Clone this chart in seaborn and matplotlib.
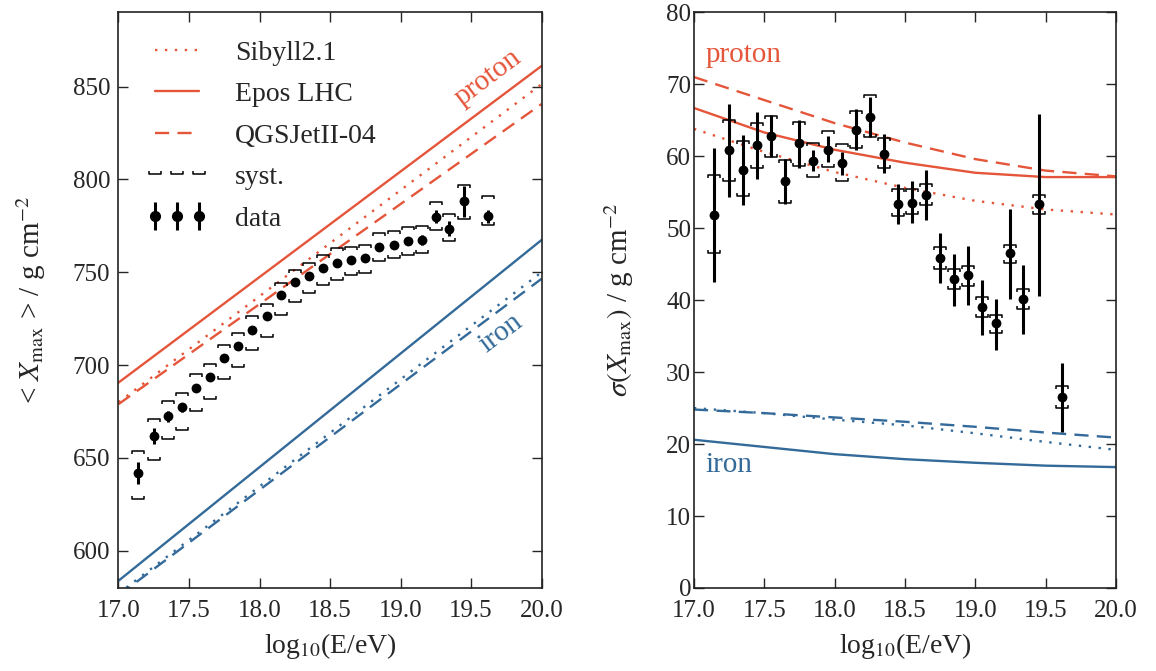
import numpy as np
import matplotlib
matplotlib.use("Agg")
import matplotlib.pyplot as plt
from matplotlib.path import Path
from matplotlib.lines import Line2D
import seaborn as sns

# energy bins (log10 E/eV)
lgE = [17.14, 17.25, 17.35, 17.45, 17.55, 17.65, 17.75, 17.85, 17.95, 18.05,
       18.15, 18.25, 18.35, 18.45, 18.55, 18.65, 18.75, 18.85, 18.95, 19.05,
       19.15, 19.25, 19.34, 19.45, 19.62]

# <Xmax>
xmax_mean = [642, 661.8, 672.5, 677.2, 687.5, 693.6, 704.1, 710.2, 719.1, 726.3,
             737.5, 744.5, 748.2, 752.5, 754.9, 756.6, 757.9, 763.8, 764.7, 766.8,
             767.4, 779.8, 773.4, 788.2, 780.2]
xmax_stat = [5.8, 4.3, 3.0, 2.5, 2.0, 1.8, 1.6, 1.5, 1.5, 1.5,
             1.5, 1.5, 1.5, 1.5, 1.5, 1.6, 1.8, 2.0, 2.0, 2.2,
             2.5, 3.5, 4.0, 8.5, 3.5]
xmax_syst_hi = [653.6, 670.9, 680.7, 684.8, 695.0, 700.7, 711.1, 717.3, 726.3, 733.1,
                744.2, 751.3, 755.2, 759.4, 763.0, 763.8, 764.7, 771.0, 772.4, 774.2,
                774.9, 787.8, 781.6, 796.9, 791.0]
xmax_syst_lo = [627.7, 648.9, 660.2, 665.1, 675.3, 681.6, 692.3, 699.1, 708.0, 715.2,
                727.2, 733.8, 738.8, 743.3, 746.0, 748.6, 749.6, 756.3, 757.6, 759.4,
                760.3, 772.7, 766.9, 778.9, 775.5]

# sigma(Xmax)
sig_mean = [51.9, 60.8, 58.1, 61.5, 62.8, 56.6, 61.8, 59.4, 60.9, 59.0,
            63.7, 65.5, 60.3, 53.4, 53.5, 54.6, 45.9, 42.9, 43.5, 39.1,
            36.8, 46.5, 40.1, 53.3, 26.5]
sig_stat_hi = [61.2, 67.3, 62.9, 66.2, 65.7, 59.6, 65.0, 60.9, 62.8, 60.6,
               66.5, 68.2, 63.1, 56.2, 56.5, 58.1, 49.3, 46.4, 47.5, 42.8,
               40.2, 52.6, 44.9, 65.8, 31.2]
sig_stat_lo = [42.5, 54.3, 53.2, 56.8, 59.9, 53.4, 58.3, 58.0, 59.2, 57.4,
               60.9, 62.7, 57.6, 50.6, 50.7, 51.1, 42.4, 39.2, 39.3, 35.1,
               33.1, 40.2, 35.3, 40.6, 21.7]
sig_syst_hi = [57.4, 65.1, 62.1, 64.6, 65.6, 59.5, 64.7, 61.9, 63.5, 61.7,
               66.3, 68.5, 62.5, 55.5, 55.4, 56.2, 47.4, 44.3, 44.7, 40.4,
               37.9, 47.6, 41.5, 54.6, 28.0]
sig_syst_lo = [46.5, 56.6, 54.5, 58.4, 59.9, 53.5, 58.6, 57.1, 58.5, 56.5,
               61.1, 62.7, 58.3, 51.7, 52.0, 53.2, 44.3, 41.5, 41.9, 37.7,
               35.4, 45.2, 38.8, 52.0, 25.0]

# model predictions, <Xmax> (straight lines)
lgE_lin = [17.0, 20.0]
p_epos_mean = [690.6, 861.1]
p_sib_mean = [680.0, 851.3]
p_qgs_mean = [679.0, 840.6]
fe_epos_mean = [583.9, 767.4]
fe_sib_mean = [577.0, 750.0]
fe_qgs_mean = [576.0, 746.5]

# model predictions, sigma(Xmax)
lgE_mod = [17.0, 17.5, 18.0, 18.5, 19.0, 19.5, 20.0]
p_epos_sig = [66.7, 63.3, 60.9, 59.1, 57.7, 57.1, 57.1]
p_sib_sig = [63.8, 60.6, 57.8, 55.6, 53.8, 52.6, 51.9]
p_qgs_sig = [71.0, 67.8, 64.6, 61.9, 59.6, 58.0, 57.2]
fe_epos_sig = [20.6, 19.6, 18.6, 17.9, 17.4, 17.0, 16.8]
fe_sib_sig = [25.0, 24.3, 23.4, 22.6, 21.5, 20.3, 19.2]
fe_qgs_sig = [24.8, 24.3, 23.7, 23.1, 22.4, 21.6, 20.9]

red = "#e5553a"
blue = "#336a99"
dotted = (0, (1, 3.2))
dashed = (0, (6, 3.5))

sns.set_style("ticks")
plt.rcParams['font.family'] = ['Liberation Serif', 'DejaVu Serif']
plt.rcParams['mathtext.fontset'] = 'stix'
plt.rcParams['font.size'] = 18
plt.rcParams['axes.edgecolor'] = '#222222'
plt.rcParams['axes.linewidth'] = 1.2

# bracket markers for systematic uncertainties
top_cap = Path([(-1, -0.5), (-1, 0), (1, 0), (1, -0.5)],
               [Path.MOVETO, Path.LINETO, Path.LINETO, Path.LINETO])
bot_cap = Path([(-1, 0.5), (-1, 0), (1, 0), (1, 0.5)],
               [Path.MOVETO, Path.LINETO, Path.LINETO, Path.LINETO])

fig = plt.figure(figsize=(11.56, 6.71), dpi=100)
ax0 = fig.add_axes([0.1025, 0.1237, 0.366, 0.858])
ax1 = fig.add_axes([0.6003, 0.1237, 0.365, 0.858])


def draw_models(ax, x, ys, color):
    for y, ls in zip(ys, [dotted, '-', dashed]):
        sns.lineplot(x=x, y=y, ax=ax, color=color, linestyle=ls, lw=1.7)


def draw_data(ax, y, err, s_hi, s_lo):
    ax.plot(lgE, s_hi, marker=top_cap, ls='none', ms=8, mfc='none', mec='k', mew=1.1)
    ax.plot(lgE, s_lo, marker=bot_cap, ls='none', ms=8, mfc='none', mec='k', mew=1.1)
    ax.errorbar(lgE, y, yerr=err, fmt='none', ecolor='k', elinewidth=2.2, capsize=0)
    sns.scatterplot(x=lgE, y=y, ax=ax, color='k', s=50, edgecolor='k', linewidth=0, zorder=5)


# left: mean
draw_models(ax0, lgE_lin, [p_sib_mean, p_epos_mean, p_qgs_mean], red)
draw_models(ax0, lgE_lin, [fe_sib_mean, fe_epos_mean, fe_qgs_mean], blue)
draw_data(ax0, xmax_mean, xmax_stat, xmax_syst_hi, xmax_syst_lo)
ax0.text(19.62, 855, "proton", color=red, rotation=37, ha='center', va='center', fontsize=21)
ax0.text(19.71, 717, "iron", color=blue, rotation=37, ha='center', va='center', fontsize=21)
ax0.set_xlim(17.0, 20.0)
ax0.set_ylim(580, 890)
ax0.set_yticks([600, 650, 700, 750, 800, 850])
ax0.set_ylabel(r"< $X_{\rm max}$ > / g cm$^{-2}$", fontsize=21, labelpad=18)

# right: sigma
draw_models(ax1, lgE_mod, [p_sib_sig, p_epos_sig, p_qgs_sig], red)
draw_models(ax1, lgE_mod, [fe_sib_sig, fe_epos_sig, fe_qgs_sig], blue)
sig_err = [np.subtract(sig_mean, sig_stat_lo), np.subtract(sig_stat_hi, sig_mean)]
draw_data(ax1, sig_mean, sig_err, sig_syst_hi, sig_syst_lo)
ax1.text(17.08, 74.0, "proton", color=red, ha='left', va='center', fontsize=21)
ax1.text(17.08, 17.1, "iron", color=blue, ha='left', va='center', fontsize=21)
ax1.set_xlim(17.0, 20.0)
ax1.set_ylim(0, 80)
ax1.set_yticks(range(0, 81, 10))
ax1.set_ylabel(r"$\sigma(X_{\rm max})$ / g cm$^{-2}$", fontsize=21, labelpad=22)

for ax in (ax0, ax1):
    ax.set_xticks([17.0, 17.5, 18.0, 18.5, 19.0, 19.5, 20.0])
    ax.set_xticklabels(["17.0", "17.5", "18.0", "18.5", "19.0", "19.5", "20.0"])
    ax.set_xlabel(r"log$_{10}$(E/eV)", fontsize=20, labelpad=6)
    ax.tick_params(direction='in', top=True, right=True, length=7, width=1,
                   labelsize=18)
    ax.tick_params(axis='x', pad=9)
    for s in ax.spines.values():
        s.set_visible(True)
ax0.tick_params(axis='y', pad=6)
ax1.tick_params(axis='y', pad=2)

# legend
h_sib = Line2D([], [], color=red, ls=dotted, lw=1.7)
h_epos = Line2D([], [], color=red, ls='-', lw=1.7)
h_qgs = Line2D([], [], color=red, ls=dashed, lw=1.7)
h_syst = Line2D([], [], marker=bot_cap, ls='none', ms=8, mfc='none', mec='k', mew=1.1)
h_data = ax0.errorbar([], [], yerr=[], fmt='o', color='k', ms=7, elinewidth=2.2)
ax0.legend([h_sib, h_epos, h_qgs, h_syst, h_data],
           ["Sibyll2.1", "Epos LHC", "QGSJetII-04", "syst.", "data"],
           loc='upper left', frameon=False, numpoints=3, fontsize=20,
           handlelength=2.2, labelspacing=0.58, handletextpad=1.0,
           borderaxespad=0.6)

fig.savefig("out.png", dpi=100)
